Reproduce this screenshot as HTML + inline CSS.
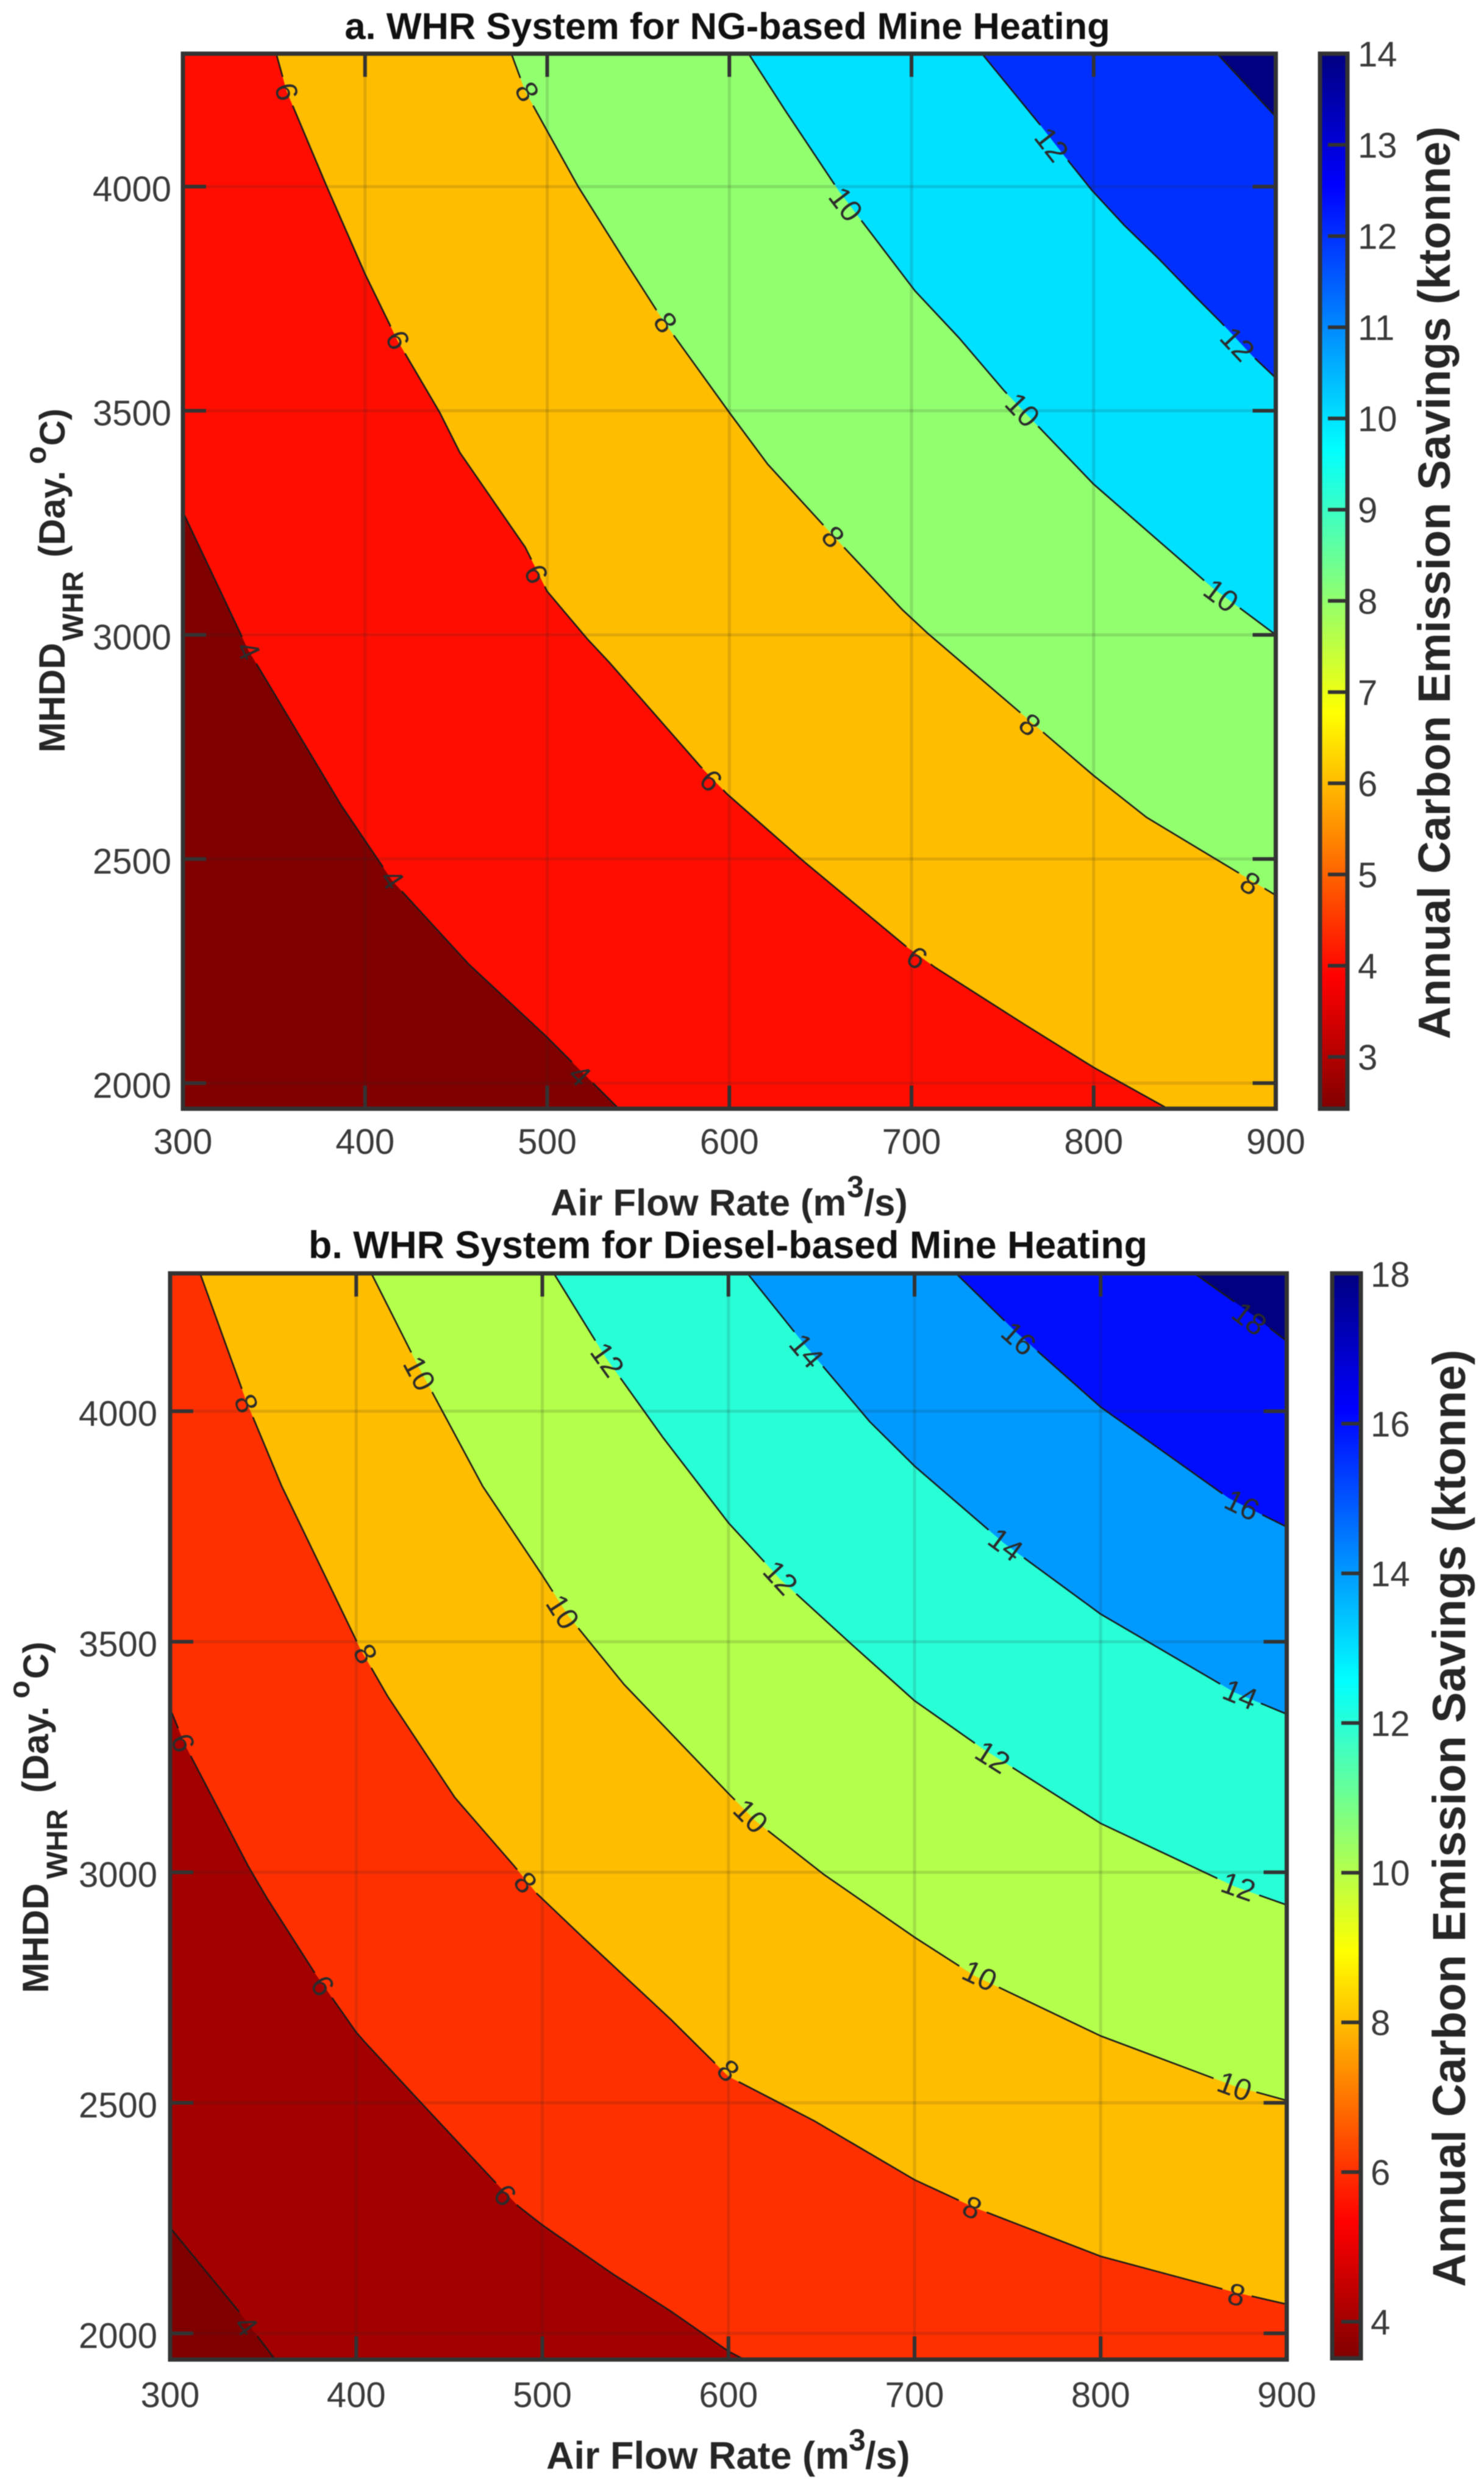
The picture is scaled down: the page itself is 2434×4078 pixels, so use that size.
<!DOCTYPE html>
<html lang="en">
<head>
<meta charset="utf-8">
<title>WHR System Carbon Emission Savings Contours</title>
<style>
html,body{margin:0;padding:0;background:#fff;}
svg{display:block;filter:blur(0.8px);font-family:"Liberation Sans",sans-serif;}
</style>
</head>
<body>
<svg id="figure" xmlns="http://www.w3.org/2000/svg" width="2434" height="4078" viewBox="0 0 2434 4078">
  <rect x="0" y="0" width="2434" height="4078" fill="#ffffff"/>
  <text x="1193" y="64" text-anchor="middle" font-size="61.4" font-weight="bold" fill="#111">a. WHR System for NG-based Mine Heating</text>
  <text x="903" y="1993" font-size="61.5" font-weight="bold" fill="#262626">Air Flow Rate (m<tspan x="1389" dy="-30" font-size="50">3</tspan><tspan x="1417" dy="30">/s)</tspan></text>
  <text transform="translate(106,1234) rotate(-90)" font-size="60" font-weight="bold" fill="#262626">MHDD<tspan x="183" dy="30" font-size="48">WHR</tspan><tspan x="320" dy="-30">(Day.</tspan><tspan x="473" dy="-31" font-size="48">o</tspan><tspan x="503" dy="31" font-size="58">C)</tspan></text>
  <text transform="translate(2378,1704) rotate(-90)" font-size="74" font-weight="bold" fill="#262626">Annual Carbon Emission Savings (ktonne)</text>

  <text x="1194" y="2063" text-anchor="middle" font-size="62.7" font-weight="bold" fill="#111">b. WHR System for Diesel-based Mine Heating</text>
  <text x="896" y="4048" font-size="63" font-weight="bold" fill="#262626">Air Flow Rate (m<tspan x="1392" dy="-30" font-size="50">3</tspan><tspan x="1419" dy="30">/s)</tspan></text>
  <text transform="translate(79,3268) rotate(-90)" font-size="60" font-weight="bold" fill="#262626">MHDD<tspan x="187" dy="31" font-size="48">WHR</tspan><tspan x="328" dy="-31">(Day.</tspan><tspan x="483" dy="-31" font-size="48">o</tspan><tspan x="515" dy="31" font-size="58">C)</tspan></text>
  <text transform="translate(2403,3750) rotate(-90)" font-size="76" font-weight="bold" fill="#262626">Annual Carbon Emission Savings (ktonne)</text>
</svg>
<script>
// Shared axis ticks
const xTickValues = [300, 400, 500, 600, 700, 800, 900];
const yTickValues = [2000, 2500, 3000, 3500, 4000];

// Panel A contour levels and colorbar ticks (ktonne)
const aLevels = [4, 6, 8, 10, 12, 14];
const aColorbarTicks = [3, 4, 5, 6, 7, 8, 9, 10, 11, 12, 13, 14];

// Panel A contours: air flow (m3/s) and MHDD (Day.C)
const aLevel4Flow = [300, 336, 387, 415, 457, 499, 540];
const aLevel4Mhdd = [3274, 2965, 2619, 2451, 2265, 2106, 1940];
const aLevel6Flow = [351, 357, 379, 400, 418, 441, 452, 488, 500, 522, 534, 584, 599, 641, 697, 713, 762, 800, 842];
const aLevel6Mhdd = [4300, 4212, 4000, 3805, 3655, 3496, 3407, 3195, 3097, 2991, 2939, 2707, 2644, 2494, 2305, 2258, 2131, 2035, 1940];
const aLevel8Flow = [480, 488, 500, 517, 543, 564, 600, 621, 657, 695, 709, 759, 800, 829, 900];
const aLevel8Mhdd = [4300, 4212, 4124, 4000, 3832, 3699, 3496, 3381, 3221, 3056, 3003, 2829, 2686, 2593, 2419];
const aLevel10Flow = [610, 631, 660, 702, 726, 751, 800, 865, 900];
const aLevel10Mhdd = [4300, 4168, 3991, 3767, 3663, 3544, 3336, 3106, 3000];
const aLevel12Flow = [738, 770, 785, 799, 817, 836, 856, 870, 887, 900];
const aLevel12Mhdd = [4300, 4141, 4063, 3992, 3913, 3838, 3754, 3697, 3623, 3573];
const aLevel14Flow = [867, 900];
const aLevel14Mhdd = [4300, 4156];

// Panel A contour labels
const aLabelLevels = [4, 4, 4, 6, 6, 6, 6, 6, 8, 8, 8, 8, 8, 10, 10, 10, 12, 12];
const aLabelFlow = [336, 415, 518, 357, 418, 494, 590, 703, 489, 565, 657, 765, 886, 664, 761, 870, 777, 879];
const aLabelMhdd = [2965, 2455, 2018, 4212, 3658, 3136, 2675, 2280, 4212, 3697, 3219, 2800, 2446, 3961, 3502, 3088, 4094, 3649];

// Panel B contour levels and colorbar ticks (ktonne)
const bLevels = [4, 6, 8, 10, 12, 14, 16, 18];
const bColorbarTicks = [4, 6, 8, 10, 12, 14, 16, 18];

// Panel B contours: air flow (m3/s) and MHDD (Day.C)
const bLevel4Flow = [300, 336, 357];
const bLevel4Mhdd = [2229, 2052, 1940];
const bLevel6Flow = [300, 308, 342, 352, 377, 388, 400, 405, 436, 473, 487, 500, 537, 569, 600, 610];
const bLevel6Mhdd = [3355, 3276, 3013, 2944, 2786, 2722, 2653, 2630, 2495, 2335, 2276, 2235, 2131, 2048, 1961, 1940];
const bLevel8Flow = [316, 341, 360, 402, 417, 453, 485, 497, 523, 569, 600, 646, 700, 732, 800, 872, 900];
const bLevel8Mhdd = [4300, 4021, 3837, 3486, 3381, 3162, 3013, 2954, 2854, 2681, 2557, 2461, 2333, 2273, 2167, 2089, 2063];
const bLevel10Flow = [408, 433, 468, 500, 514, 544, 600, 615, 651, 700, 732, 800, 872, 900];
const bLevel10Mhdd = [4300, 4100, 3837, 3644, 3556, 3407, 3171, 3110, 2996, 2859, 2776, 2645, 2536, 2505];
const bLevel12Flow = [506, 534, 565, 600, 628, 666, 700, 737, 800, 872, 900];
const bLevel12Mhdd = [4300, 4117, 3942, 3758, 3635, 3495, 3372, 3267, 3106, 2969, 2929];
const bLevel14Flow = [610, 641, 676, 700, 748, 800, 872, 900];
const bLevel14Mhdd = [4300, 4144, 3977, 3881, 3714, 3560, 3390, 3343];
const bLevel16Flow = [722, 755, 800, 869, 900];
const bLevel16Mhdd = [4300, 4170, 4009, 3811, 3749];
const bLevel18Flow = [850, 880, 900];
const bLevel18Mhdd = [4300, 4214, 4152];

// Panel B contour labels
const bLabelLevels = [4, 6, 6, 6, 8, 8, 8, 8, 8, 8, 10, 10, 10, 10, 10, 12, 12, 12, 12, 14, 14, 14, 16, 16, 18];
const bLabelFlow = [341, 307, 382, 480, 341, 405, 491, 600, 731, 873, 434, 511, 612, 735, 872, 535, 628, 742, 874, 642, 749, 875, 756, 876, 880];
const bLabelMhdd = [2017, 3281, 2754, 2300, 4017, 3474, 2978, 2570, 2273, 2084, 4082, 3565, 3122, 2776, 2536, 4112, 3639, 3250, 2969, 4131, 3711, 3386, 4158, 3797, 4201];

const SVGNS = 'http://www.w3.org/2000/svg';
const figure = document.getElementById('figure');

function make(tag, attrs, parent) {
  const el = document.createElementNS(SVGNS, tag);
  for (const k in attrs) el.setAttribute(k, attrs[k]);
  (parent || figure).appendChild(el);
  return el;
}

// MATLAB jet colormap, t = 0 at the top of the colorbar, 1 at the bottom
function jet(t) {
  const stops = [[0, 0, 0, 128], [0.125, 0, 0, 255], [0.375, 0, 255, 255], [0.625, 255, 255, 0], [0.875, 255, 0, 0], [1, 128, 0, 0]];
  t = Math.max(0, Math.min(1, t));
  for (let i = 1; i < stops.length; i++) {
    if (t <= stops[i][0]) {
      const a = stops[i - 1], b = stops[i], f = (t - a[0]) / (b[0] - a[0]);
      const c = [1, 2, 3].map(j => Math.round(a[j] + (b[j] - a[j]) * f));
      return 'rgb(' + c.join(',') + ')';
    }
  }
  return 'rgb(128,0,0)';
}

function linear(d0, d1, r0, r1) {
  return v => r0 + (v - d0) * (r1 - r0) / (d1 - d0);
}

function drawPanel(p) {
  const sx = linear(300, 900, p.left, p.right);
  const sy = linear(2000, 4000, p.y2000, p.y4000);
  const sc = linear(p.cbTickLow, p.cbTickHigh, p.cbYLow, p.cbYHigh);
  const w = p.right - p.left, h = p.bottom - p.top;
  const toT = v => (p.vmax - v) / (p.vmax - p.vmin);

  const group = make('g', {});
  
  

  const defs = make('defs', {}, group);
  const clip = make('clipPath', { id: p.id + '-clip' }, defs);
  make('rect', { x: p.left, y: p.top, width: w, height: h }, clip);
  const mask = make('mask', { id: p.id + '-mask', maskUnits: 'userSpaceOnUse', x: p.left, y: p.top, width: w, height: h }, defs);
  make('rect', { x: p.left, y: p.top, width: w, height: h, fill: '#fff' }, mask);
  const grad = make('linearGradient', { id: p.id + '-jet', x1: 0, y1: 0, x2: 0, y2: 1 }, defs);
  [0, 0.125, 0.375, 0.625, 0.875, 1].forEach(t => {
    make('stop', { offset: t, 'stop-color': jet(t) }, grad);
  });

  const plot = make('g', { 'clip-path': 'url(#' + p.id + '-clip)' }, group);
  
  

  const base = make('rect', { x: p.left, y: p.top, width: w, height: h, fill: jet(1) }, plot);
  
  

  // filled bands, lowest level first
  p.levels.forEach(level => {
    const c = p.contours[level];
    const pts = c.flow.map((f, i) => sx(f) + ',' + sy(c.mhdd[i]));
    const lastM = c.mhdd[c.mhdd.length - 1], firstF = c.flow[0];
    pts.push(sx(1000) + ',' + sy(lastM));
    pts.push(sx(1000) + ',' + sy(4500));
    pts.push(sx(firstF) + ',' + sy(4500));
    const band = make('polygon', { points: pts.join(' '), fill: jet(toT(level)) }, plot);
    
    
  });

  // grid lines
  xTickValues.slice(1, -1).forEach(v => {
    const g = make('line', { x1: sx(v), x2: sx(v), y1: p.top, y2: p.bottom, stroke: 'rgba(38,38,38,0.15)', 'stroke-width': 5 }, plot);
    
    
  });
  yTickValues.forEach(v => {
    const g = make('line', { x1: p.left, x2: p.right, y1: sy(v), y2: sy(v), stroke: 'rgba(38,38,38,0.15)', 'stroke-width': 5 }, plot);
    
    
  });

  // contour lines broken at labels
  const lines = make('g', { mask: 'url(#' + p.id + '-mask)' }, plot);
  
  
  p.levels.forEach(level => {
    const c = p.contours[level];
    const pts = c.flow.map((f, i) => sx(f) + ',' + sy(c.mhdd[i])).join(' ');
    const line = make('polyline', { points: pts, fill: 'none', stroke: '#1a1a1a', 'stroke-width': 2.6, 'stroke-linejoin': 'round' }, lines);
    
    
  });

  // contour labels, rotated along the contour tangent
  p.labelLevels.forEach((level, i) => {
    const c = p.contours[level];
    const lx = sx(p.labelFlow[i]), ly = sy(p.labelMhdd[i]);
    let best = Infinity, angle = 0;
    for (let k = 1; k < c.flow.length; k++) {
      const ax = sx(c.flow[k - 1]), ay = sy(c.mhdd[k - 1]), bx = sx(c.flow[k]), by = sy(c.mhdd[k]);
      const dx = bx - ax, dy = by - ay;
      const u = Math.max(0, Math.min(1, ((lx - ax) * dx + (ly - ay) * dy) / (dx * dx + dy * dy)));
      const d = Math.hypot(lx - ax - u * dx, ly - ay - u * dy);
      if (d < best) { best = d; angle = Math.atan2(dy, dx) * 180 / Math.PI; }
    }
    if (angle > 90) angle -= 180;
    if (angle < -90) angle += 180;
    const label = String(level);
    make('circle', { cx: lx, cy: ly, r: label.length > 1 ? 37 : 25, fill: '#000' }, mask);
    const t = make('text', {
      x: 0, y: 0, dy: '0.35em', 'text-anchor': 'middle', 'font-size': 50, fill: '#2b2b2b',
      transform: 'translate(' + lx + ',' + ly + ') rotate(' + angle + ')'
    }, plot);
    t.textContent = label;
    
    
  });

  // tick marks (box on: all four sides)
  const tickStyle = { stroke: '#333', 'stroke-width': 6 };
  xTickValues.slice(1, -1).forEach(v => {
    const a = make('line', Object.assign({ x1: sx(v), x2: sx(v), y1: p.bottom, y2: p.bottom - 38 }, tickStyle), group);
    
    
    const b = make('line', Object.assign({ x1: sx(v), x2: sx(v), y1: p.top, y2: p.top + 38 }, tickStyle), group);
    
    
  });
  yTickValues.forEach(v => {
    const a = make('line', Object.assign({ x1: p.left, x2: p.left + 38, y1: sy(v), y2: sy(v) }, tickStyle), group);
    
    
    const b = make('line', Object.assign({ x1: p.right, x2: p.right - 38, y1: sy(v), y2: sy(v) }, tickStyle), group);
    
    
  });

  // tick labels
  xTickValues.forEach(v => {
    const t = make('text', { x: sx(v), y: p.xLabelBaseline, 'text-anchor': 'middle', 'font-size': 58, fill: '#3a3a3a' }, group);
    t.textContent = String(v);
    
    
  });
  yTickValues.forEach(v => {
    const t = make('text', { x: p.yLabelRight, y: sy(v) + 24, 'text-anchor': 'end', 'font-size': 58, fill: '#3a3a3a' }, group);
    t.textContent = String(v);
    
    
  });

  // axes box
  const box = make('rect', { x: p.left, y: p.top, width: w, height: h, fill: 'none', stroke: '#333', 'stroke-width': 7 }, group);
  
  

  // colorbar
  const cb = make('rect', { x: p.cbLeft, y: p.top, width: p.cbRight - p.cbLeft, height: p.cbBottom - p.top, fill: 'url(#' + p.id + '-jet)', stroke: '#333', 'stroke-width': 7 }, group);
  
  
  p.cbTicks.forEach(v => {
    const y = sc(v);
    if (v !== p.vmax) {
      const tick = make('line', { x1: p.cbRight, x2: p.cbRight - 32, y1: y, y2: y, stroke: '#333', 'stroke-width': 6 }, group);
      
      
    }
    const t = make('text', { x: p.cbLabelX, y: y + 21, 'font-size': 58, fill: '#3a3a3a' }, group);
    t.textContent = String(v);
    
    
  });
}

drawPanel({
  id: 'panel-a',
  left: 300, right: 2092.5, top: 88, bottom: 1818, y2000: 1776, y4000: 306,
  vmin: 2.4, vmax: 14,
  levels: aLevels,
  contours: {
    4: { flow: aLevel4Flow, mhdd: aLevel4Mhdd },
    6: { flow: aLevel6Flow, mhdd: aLevel6Mhdd },
    8: { flow: aLevel8Flow, mhdd: aLevel8Mhdd },
    10: { flow: aLevel10Flow, mhdd: aLevel10Mhdd },
    12: { flow: aLevel12Flow, mhdd: aLevel12Mhdd },
    14: { flow: aLevel14Flow, mhdd: aLevel14Mhdd }
  },
  labelLevels: aLabelLevels, labelFlow: aLabelFlow, labelMhdd: aLabelMhdd,
  cbLeft: 2165, cbRight: 2210, cbBottom: 1818,
  cbTicks: aColorbarTicks, cbTickLow: 3, cbTickHigh: 14, cbYLow: 1733, cbYHigh: 88,
  cbLabelX: 2227, xLabelBaseline: 1892, yLabelRight: 281
});

drawPanel({
  id: 'panel-b',
  left: 279, right: 2110.5, top: 2088, bottom: 3869, y2000: 3826, y4000: 2314,
  vmin: 3.5, vmax: 18,
  levels: bLevels,
  contours: {
    4: { flow: bLevel4Flow, mhdd: bLevel4Mhdd },
    6: { flow: bLevel6Flow, mhdd: bLevel6Mhdd },
    8: { flow: bLevel8Flow, mhdd: bLevel8Mhdd },
    10: { flow: bLevel10Flow, mhdd: bLevel10Mhdd },
    12: { flow: bLevel12Flow, mhdd: bLevel12Mhdd },
    14: { flow: bLevel14Flow, mhdd: bLevel14Mhdd },
    16: { flow: bLevel16Flow, mhdd: bLevel16Mhdd },
    18: { flow: bLevel18Flow, mhdd: bLevel18Mhdd }
  },
  labelLevels: bLabelLevels, labelFlow: bLabelFlow, labelMhdd: bLabelMhdd,
  cbLeft: 2185, cbRight: 2232, cbBottom: 3867,
  cbTicks: bColorbarTicks, cbTickLow: 4, cbTickHigh: 18, cbYLow: 3807, cbYHigh: 2089,
  cbLabelX: 2248, xLabelBaseline: 3947, yLabelRight: 258
});
</script>
</body>
</html>
